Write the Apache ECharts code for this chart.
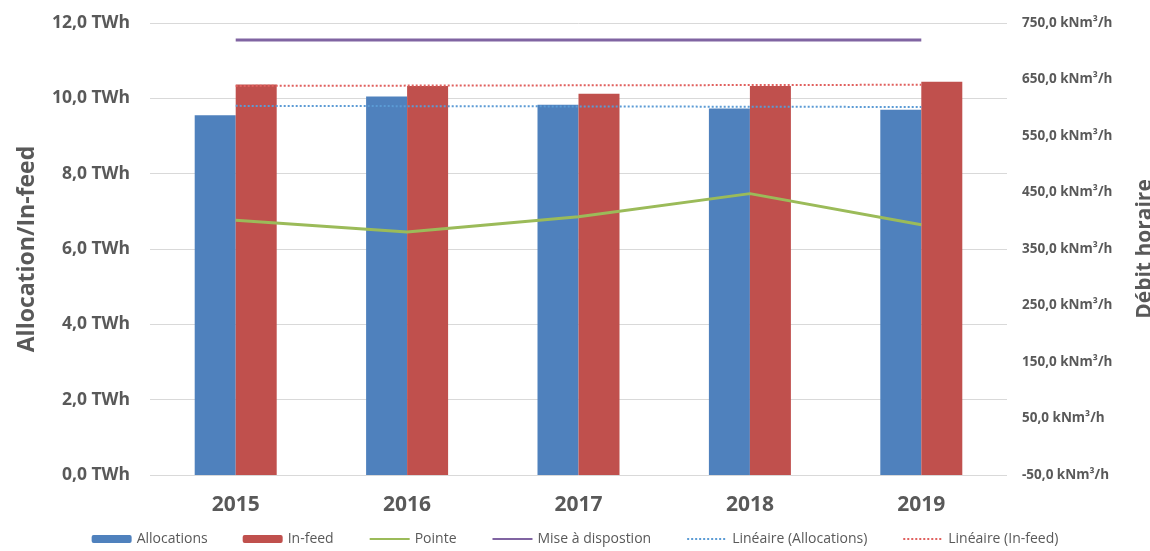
<!DOCTYPE html>
<html>
<head>
<meta charset="utf-8">
<script src="https://cdn.jsdelivr.net/npm/echarts@6/dist/echarts.min.js"></script>
<style>
html,body{margin:0;padding:0;background:#fff;}
#chart{width:1150px;height:551px;}
</style>
</head>
<body>
<div id="chart"></div>
<script>
const years = ['2015','2016','2017','2018','2019'];
const allocations = [9.55, 10.05, 9.83, 9.73, 9.70];
const infeed = [10.37, 10.33, 10.12, 10.33, 10.44];
const pointe = [401, 380, 407, 448, 393];
const miseADisposition = [720, 720, 720, 720, 720];
const trendAllocations = [9.80, null, null, null, 9.77];
const trendInfeed = [10.33, null, null, null, 10.36];
const leftTicks = [0, 2, 4, 6, 8, 10, 12];
const rightTicks = [-50, 50, 150, 250, 350, 450, 550, 650, 750];

const FONT = 'Open Sans';
const GREY = '#595959';
const fmt1 = v => v.toFixed(1).replace('.', ',');
const hideSym = { opacity: 0 };

const chart = echarts.init(document.getElementById('chart'));
chart.setOption({
  animation: false,
  backgroundColor: '#fff',
  textStyle: { fontFamily: FONT },
  grid: { left: 150, right: 143, top: 23, bottom: 76, containLabel: false, outerBoundsMode: 'none' },
  legend: {
    bottom: 0,
    left: 'center',
    itemWidth: 40,
    itemHeight: 8,
    itemGap: 35,
    textStyle: { fontFamily: FONT, fontSize: 14, color: GREY },
    data: [
      { name: 'Allocations' },
      { name: 'In-feed' },
      { name: 'Pointe', itemStyle: hideSym },
      { name: 'Mise à dispostion', itemStyle: hideSym },
      { name: 'Linéaire (Allocations)', itemStyle: hideSym },
      { name: 'Linéaire (In-feed)', itemStyle: hideSym }
    ]
  },
  xAxis: {
    type: 'category',
    data: years,
    axisLine: { show: false },
    axisTick: { show: false },
    axisLabel: { fontFamily: FONT, fontSize: 21, fontWeight: 'bold', color: GREY, margin: 20 }
  },
  yAxis: [
    {
      type: 'value',
      min: leftTicks[0],
      max: leftTicks[leftTicks.length - 1],
      interval: 2,
      name: 'Allocation/In-feed',
      nameLocation: 'middle',
      nameGap: 111,
      nameTextStyle: { fontFamily: FONT, fontSize: 23, fontWeight: 'bold', color: GREY },
      axisLine: { show: false },
      axisTick: { show: false },
      splitLine: { lineStyle: { color: '#d9d9d9', width: 1 } },
      axisLabel: { fontFamily: FONT, fontSize: 17.5, fontWeight: 'bold', color: GREY, margin: 20,
        formatter: v => fmt1(v) + ' TWh' }
    },
    {
      type: 'value',
      min: rightTicks[0],
      max: rightTicks[rightTicks.length - 1],
      name: 'Débit horaire',
      nameLocation: 'middle',
      nameGap: 128,
      nameTextStyle: { fontFamily: FONT, fontSize: 21, fontWeight: 'bold', color: GREY },
      axisLine: { show: false },
      axisTick: { show: false },
      splitLine: { show: false },
      axisLabel: { fontFamily: FONT, fontSize: 13.5, fontWeight: 'bold', color: GREY, margin: 15,
        customValues: rightTicks,
        formatter: v => fmt1(v) + ' kNm³/h' }
    }
  ],
  series: [
    { name: 'Allocations', type: 'bar', data: allocations, barWidth: 41, barGap: '0%',
      itemStyle: { color: '#4F81BD' } },
    { name: 'In-feed', type: 'bar', data: infeed, barWidth: 41, barGap: '0%',
      itemStyle: { color: '#C0504D' } },
    { name: 'Pointe', type: 'line', yAxisIndex: 1, data: pointe, symbol: 'none', z: 5,
      itemStyle: { color: '#9BBB59' }, lineStyle: { color: '#9BBB59', width: 3 } },
    { name: 'Mise à dispostion', type: 'line', yAxisIndex: 1, data: miseADisposition, symbol: 'none', z: 5,
      itemStyle: { color: '#8064A2' }, lineStyle: { color: '#8064A2', width: 3 } },
    { name: 'Linéaire (Allocations)', type: 'line', yAxisIndex: 0, data: trendAllocations, symbol: 'none',
      connectNulls: true, z: 6,
      itemStyle: { color: '#5B9BD5' }, lineStyle: { color: '#5B9BD5', width: 2, type: [2, 2] } },
    { name: 'Linéaire (In-feed)', type: 'line', yAxisIndex: 0, data: trendInfeed, symbol: 'none',
      connectNulls: true, z: 6,
      itemStyle: { color: '#E0605E' }, lineStyle: { color: '#E0605E', width: 2, type: [2, 2] } }
  ]
});
</script>
</body>
</html>
